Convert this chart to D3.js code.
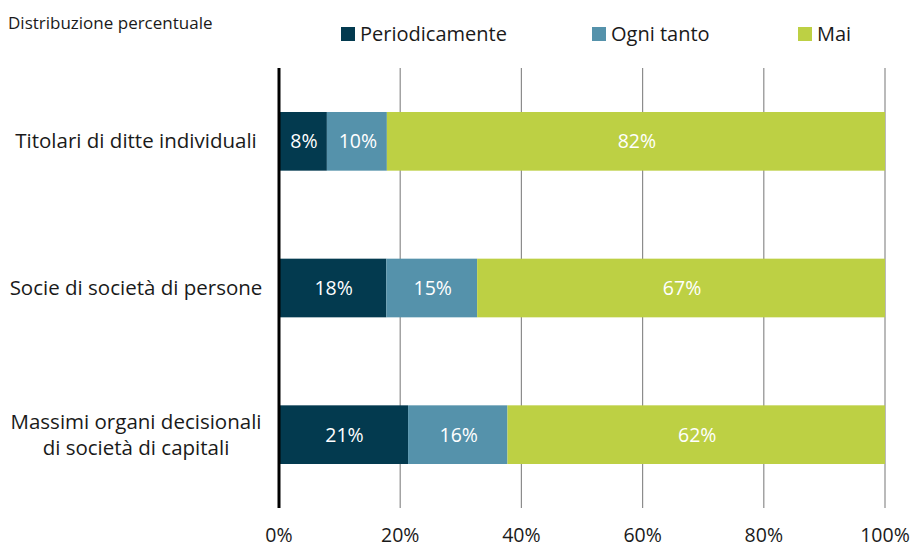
<!DOCTYPE html>
<html>
<head>
<meta charset="utf-8">
<script src="https://cdn.jsdelivr.net/npm/d3@7"></script>
<style>
  body { margin: 0; background: #fff; }
  text { font-family: "Open Sans", "DejaVu Sans", sans-serif; }
</style>
</head>
<body>
<script>
// data
var categories = [["Titolari di ditte individuali"], ["Socie di società di persone"], ["Massimi organi decisionali", "di società di capitali"]];
var seriesNames = ["Periodicamente", "Ogni tanto", "Mai"];
var periodicamente = [7.9, 17.7, 21.3];
var ogniTanto = [9.9, 15.0, 16.4];
var mai = [82.2, 67.3, 62.3];
var xTicks = [0, 20, 40, 60, 80, 100];

var colors = ["#033a4f", "#5592ab", "#bdd044"];
var W = 923, H = 548;

var svg = d3.select("body").append("svg").attr("width", W).attr("height", H);

var x = d3.scaleLinear().domain([0, 100]).range([279, 885]);
var y = d3.scaleBand().domain([0, 1, 2]).range([68, 508]).paddingInner(0.6).paddingOuter(0.3);

// gridlines
svg.append("g").selectAll("line").data(xTicks.slice(1)).enter().append("line")
  .attr("x1", function(d) { return x(d); }).attr("x2", function(d) { return x(d); })
  .attr("y1", 68).attr("y2", 508)
  .attr("stroke", "#8c8c8c").attr("stroke-width", 1.2);

// stacked bars
var rows = categories.map(function(c, i) {
  return [periodicamente[i], ogniTanto[i], mai[i]];
});
var stackData = rows.map(function(r, i) {
  var acc = 0;
  return r.map(function(v, k) {
    var seg = { row: i, k: k, x0: acc, x1: acc + v, v: v };
    acc += v;
    return seg;
  });
});
var segs = [].concat.apply([], stackData);

svg.append("g").selectAll("rect").data(segs).enter().append("rect")
  .attr("x", function(d) { return x(d.x0); })
  .attr("width", function(d) { return x(d.x1) - x(d.x0); })
  .attr("y", function(d) { return y(d.row); })
  .attr("height", y.bandwidth())
  .attr("fill", function(d) { return colors[d.k]; });

svg.append("g").selectAll("text").data(segs).enter().append("text")
  .attr("x", function(d) { return (x(d.x0) + x(d.x1)) / 2 + 1; })
  .attr("y", function(d) { return y(d.row) + y.bandwidth() / 2 + 7; })
  .attr("text-anchor", "middle")
  .attr("fill", "#fff")
  .attr("font-size", 19.5)
  .text(function(d) { return Math.round(d.v) + "%"; });

// zero axis
svg.append("line").attr("x1", x(0)).attr("x2", x(0)).attr("y1", 68).attr("y2", 508)
  .attr("stroke", "#000").attr("stroke-width", 3);

// category labels
var cat = svg.append("g").selectAll("text").data(categories).enter().append("text")
  .attr("text-anchor", "middle")
  .attr("font-size", 20.5)
  .attr("fill", "#1a1a1a");
cat.each(function(lines, i) {
  var t = d3.select(this);
  var cy = y(i) + y.bandwidth() / 2;
  var start = cy + 7 - (lines.length - 1) * 13;
  lines.forEach(function(l, j) {
    t.append("tspan").attr("x", 136).attr("y", start + j * 26).text(l);
  });
});

// x tick labels
svg.append("g").selectAll("text").data(xTicks).enter().append("text")
  .attr("x", function(d) { return x(d); })
  .attr("y", 542)
  .attr("text-anchor", "middle")
  .attr("font-size", 19.5)
  .attr("fill", "#1a1a1a")
  .text(function(d) { return d + "%"; });

// title
svg.append("text").attr("x", 8).attr("y", 29).attr("font-size", 17).attr("fill", "#1a1a1a")
  .text("Distribuzione percentuale");

// legend
var legendX = [341, 592, 798];
var lg = svg.append("g").selectAll("g").data(seriesNames).enter().append("g")
  .attr("transform", function(d, i) { return "translate(" + legendX[i] + ",27)"; });
lg.append("rect").attr("width", 14).attr("height", 14).attr("fill", function(d, i) { return colors[i]; });
lg.append("text").attr("x", 19).attr("y", 14).attr("font-size", 20).attr("fill", "#1a1a1a")
  .text(function(d) { return d; });
</script>
</body>
</html>
